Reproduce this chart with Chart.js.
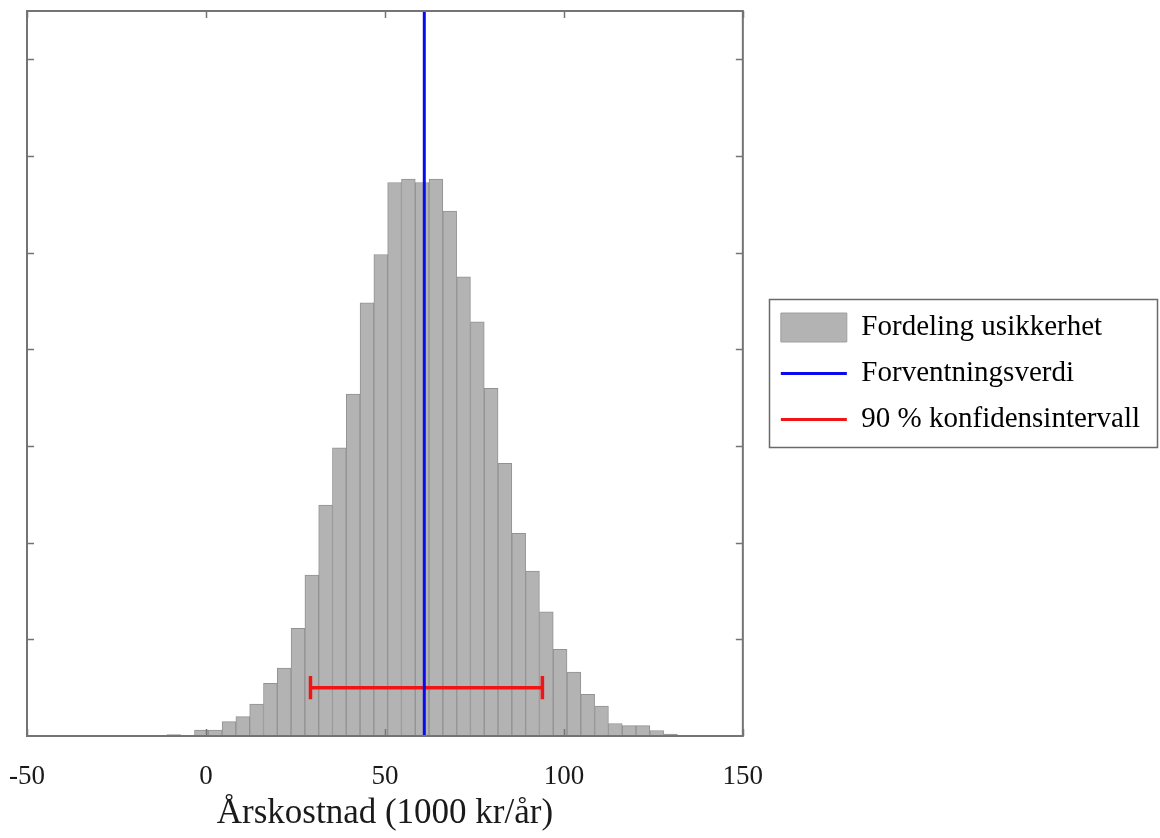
<!DOCTYPE html>
<html>
<head>
<meta charset="utf-8">
<script src="https://cdn.jsdelivr.net/npm/chart.js@4.4.1/dist/chart.umd.min.js"></script>
<style>
  html, body { margin: 0; padding: 0; background: #ffffff; }
  canvas { display: block; }
</style>
</head>
<body>
<canvas id="c" width="1160" height="838"></canvas>
<script>
// Histogram bins: centres (1000 kr/år) and counts
const binCenters = [-8.99, -5.14, -1.28, 2.58, 6.43, 10.29, 14.14, 18.00, 21.85, 25.71,
  29.57, 33.42, 37.27, 41.13, 44.98, 48.84, 52.69, 56.55, 60.40, 64.26,
  68.11, 71.97, 75.82, 79.68, 83.53, 87.39, 91.24, 95.10, 98.95, 102.81,
  106.66, 110.52, 114.37, 118.23, 122.08, 125.94, 129.79];
const binCounts = [15, 3, 62, 62, 148, 200, 331, 545, 703, 1114,
  1665, 2389, 2981, 3537, 4481, 4981, 5726, 5760, 5726, 5760,
  5429, 4750, 4284, 3596, 2820, 2096, 1706, 1285, 897, 662,
  431, 310, 129, 107, 107, 57, 21];

// Expected value and 90 % confidence interval
const expectedValue = 61.0;
const ciLow = 29.2;
const ciHigh = 94.0;
const ciLevel = 500;      // height at which the interval bar is drawn
const ciCapHalf = 120;    // half height of the end caps

// Axis settings
const xTicks = [-50, 0, 50, 100, 150];
const yTicks = [0, 1000, 2000, 3000, 4000, 5000, 6000, 7000];
const yMax = 7500;

const legendTexts = ['Fordeling usikkerhet', 'Forventningsverdi', '90 % konfidensintervall'];

const barFill = '#b3b3b3';
const barEdge = '#929292';
const blue = '#0a0af0';
const red = '#f01414';
const serif = "'Liberation Serif', 'Times New Roman', serif";

const histData = binCenters.map((c, i) => ({ x: c, y: binCounts[i] }));
const meanData = [{ x: expectedValue, y: 0 }, { x: expectedValue, y: yMax }];
const ciData = [
  { x: ciLow, y: ciLevel + ciCapHalf }, { x: ciLow, y: ciLevel - ciCapHalf },
  { x: ciLow, y: ciLevel }, { x: ciHigh, y: ciLevel },
  { x: ciHigh, y: ciLevel + ciCapHalf }, { x: ciHigh, y: ciLevel - ciCapHalf }
];

// Keeps some white space between the plot box and the legend,
// draws the plot box with inward tick marks and a frame around the legend
const framePlugin = {
  id: 'frame',
  afterLayout(chart) {
    const lg = chart.legend;
    if (lg) { lg.left += 21; lg.right += 21; }
  },
  afterDraw(chart) {
    const { ctx, chartArea: a } = chart;
    const xs = chart.scales.x, ys = chart.scales.y;
    const len = 7;
    ctx.save();
    ctx.strokeStyle = '#747474';
    ctx.lineWidth = 2;
    ctx.strokeRect(a.left, a.top, a.right - a.left, a.bottom - a.top);
    ctx.lineWidth = 1.5;
    ctx.beginPath();
    xTicks.forEach(v => {
      const px = Math.round(xs.getPixelForValue(v)) + 0.5;
      ctx.moveTo(px, a.bottom); ctx.lineTo(px, a.bottom - len);
      ctx.moveTo(px, a.top); ctx.lineTo(px, a.top + len);
    });
    yTicks.forEach(v => {
      if (v <= 0 || v >= yMax) return;
      const py = Math.round(ys.getPixelForValue(v)) + 0.5;
      ctx.moveTo(a.left, py); ctx.lineTo(a.left + len, py);
      ctx.moveTo(a.right, py); ctx.lineTo(a.right - len, py);
    });
    ctx.stroke();

    const boxes = chart.legend && chart.legend.legendHitBoxes;
    if (boxes && boxes.length) {
      const l = Math.min(...boxes.map(b => b.left)) - 12;
      const r = Math.max(...boxes.map(b => b.left + b.width)) + 17;
      const t = boxes[0].top - 14;
      const last = boxes[boxes.length - 1];
      const b = last.top + last.height + 13;
      ctx.strokeStyle = '#6a6a6a';
      ctx.lineWidth = 1.5;
      ctx.strokeRect(Math.round(l) + 0.5, Math.round(t) + 0.5, Math.round(r - l), Math.round(b - t));
    }
    ctx.restore();
  }
};

new Chart(document.getElementById('c'), {
  type: 'bar',
  data: {
    datasets: [
      {
        type: 'bar',
        label: legendTexts[0],
        data: histData,
        backgroundColor: barFill,
        borderColor: barEdge,
        borderWidth: 1,
        barPercentage: 1,
        categoryPercentage: 1,
        order: 3
      },
      {
        type: 'line',
        label: legendTexts[1],
        data: meanData,
        borderColor: blue,
        borderWidth: 3,
        pointRadius: 0,
        fill: false,
        order: 1
      },
      {
        type: 'line',
        label: legendTexts[2],
        data: ciData,
        borderColor: red,
        borderWidth: 3.5,
        pointRadius: 0,
        fill: false,
        order: 2
      }
    ]
  },
  options: {
    responsive: false,
    devicePixelRatio: 1,
    animation: false,
    events: [],
    layout: { padding: { left: 27, top: 11, right: 31, bottom: 0 } },
    scales: {
      x: {
        type: 'linear',
        min: -50,
        max: 150,
        offset: false,
        grid: { display: false, offset: false },
        border: { display: false },
        ticks: {
          stepSize: 50,
          padding: 17,
          color: '#1a1a1a',
          font: { family: serif, size: 27 }
        },
        afterBuildTicks(scale) { scale.ticks = xTicks.map(v => ({ value: v })); },
        afterFit(scale) {
          scale.height = 102;
          scale.paddingLeft = 0;   // the "-50" label may hang into the left margin
        },
        title: {
          display: true,
          text: 'Årskostnad (1000 kr/år)',
          color: '#1a1a1a',
          font: { family: serif, size: 35 },
          padding: { top: 2, bottom: 3 }
        }
      },
      y: {
        type: 'linear',
        display: false,
        min: 0,
        max: yMax,
        afterBuildTicks(scale) { scale.ticks = yTicks.map(v => ({ value: v })); }
      }
    },
    plugins: {
      tooltip: { enabled: false },
      legend: {
        display: true,
        position: 'right',
        align: 'center',
        fullSize: false,
        labels: {
          usePointStyle: true,
          pointStyleWidth: 66,
          boxHeight: 31,
          padding: 17,
          color: '#1a1a1a',
          font: { family: serif, size: 29 },
          generateLabels() {
            return [
              { text: legendTexts[0], fillStyle: barFill, strokeStyle: '#a0a0a0', lineWidth: 1, pointStyle: 'rect', datasetIndex: 0, hidden: false },
              { text: legendTexts[1], fillStyle: blue, strokeStyle: blue, lineWidth: 3, pointStyle: 'line', datasetIndex: 1, hidden: false },
              { text: legendTexts[2], fillStyle: red, strokeStyle: red, lineWidth: 3, pointStyle: 'line', datasetIndex: 2, hidden: false }
            ];
          }
        }
      }
    }
  },
  plugins: [framePlugin]
});
</script>
</body>
</html>
